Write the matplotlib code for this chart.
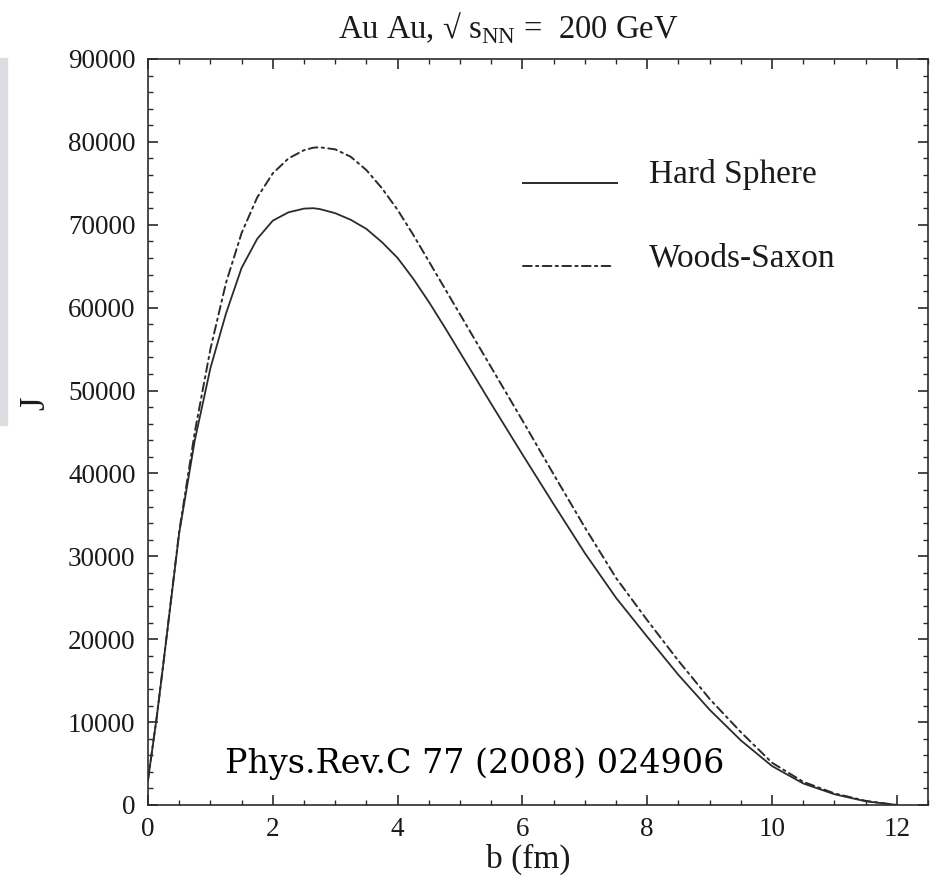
import numpy as np
import matplotlib.pyplot as plt
from matplotlib.lines import Line2D
from matplotlib.patches import Rectangle
from matplotlib.ticker import MultipleLocator

plt.rcParams['font.family'] = ['Liberation Serif', 'DejaVu Serif']
plt.rcParams['mathtext.fontset'] = 'custom'
plt.rcParams['mathtext.rm'] = 'Liberation Serif'

# valores
b_fm = [0, 0.14, 0.25, 0.5, 0.75, 1.0, 1.25, 1.5, 1.75, 2.0, 2.25, 2.5, 2.65,
        2.75, 3.0, 3.25, 3.5, 3.75, 4.0, 4.25, 4.5, 4.75, 5.0, 5.5, 6.0, 6.5,
        7.0, 7.5, 8.0, 8.5, 9.0, 9.5, 10.0, 10.5, 11.0, 11.5, 12.0]
j_hard = [3000, 10600, 17300, 32800, 44000, 52700, 59300, 64800, 68300, 70500,
          71500, 71950, 72000, 71900, 71400, 70600, 69500, 67900, 66000, 63500,
          60700, 57700, 54600, 48400, 42300, 36300, 30400, 25000, 20300, 15700,
          11500, 7800, 4700, 2600, 1300, 450, 0]
j_ws = [3000, 10600, 17300, 33000, 45000, 55000, 63000, 69000, 73300, 76200,
        78000, 79000, 79300, 79350, 79100, 78200, 76600, 74400, 71800, 68800,
        65600, 62400, 59200, 52800, 46400, 39900, 33500, 27400, 22300, 17400,
        12800, 8800, 5100, 2800, 1400, 500, 0]

title = r"Au Au, √ s$_{\rm NN}$ =  200 GeV"
ref_text = "Phys.Rev.C 77 (2008) 024906"
labels = ["Hard Sphere", "Woods-Saxon"]

cor = "#2b2b2b"
ws_dash = (0, (4.5, 2.2, 1.2, 2.2))

fig = plt.figure(figsize=(9.38, 8.92), dpi=100)
ax = fig.add_axes([148/938, 87/892, 780/938, 746/892])

ax.plot(b_fm, j_hard, color=cor, lw=1.3)
ax.plot(b_fm, j_ws, color=cor, lw=1.4, linestyle=ws_dash,
        dash_capstyle='round')

ax.set_xlim(0, 12.5)
ax.set_ylim(0, 90000)
ax.xaxis.set_major_locator(MultipleLocator(2))
ax.xaxis.set_minor_locator(MultipleLocator(0.5))
ax.yaxis.set_major_locator(MultipleLocator(10000))
ax.yaxis.set_minor_locator(MultipleLocator(2000))
ax.tick_params(which='both', direction='in', top=True, right=True,
               colors=cor, labelcolor='#1a1a1a', labelsize=19.5)
ax.tick_params(which='major', length=7, width=1.2, pad=9)
ax.tick_params(which='minor', length=3.5, width=1.0)
for s in ax.spines.values():
    s.set_linewidth(1.2)
    s.set_color(cor)

ax.set_xlabel("b (fm)", fontsize=24, color='#1a1a1a')
ax.xaxis.set_label_coords(0.487, -0.052)
ax.set_ylabel("J", fontsize=25, color='#1a1a1a')
ax.yaxis.set_label_coords(-0.123, 0.539)

# legenda desenhada à mão
estilos = ['-', ws_dash]
x_fim = [0.601, 0.596]
ys = [0.834, 0.7225]
for lab, ls, xf, y in zip(labels, estilos, x_fim, ys):
    ax.add_line(Line2D([0.481, xf], [y, y], transform=ax.transAxes,
                       color=cor, lw=1.4, linestyle=ls, dash_capstyle='round'))
    ax.text(0.642, y, lab, transform=ax.transAxes, fontsize=24,
            va='baseline', ha='left', color='#1a1a1a')

ax.text(0.099, 0.055, ref_text, transform=ax.transAxes, fontsize=24,
        family='DejaVu Serif', va='center', ha='left', color='black')

fig.text(508/938, 1 - 28/892, title, fontsize=23.5, ha='center', va='center',
         color='#1a1a1a')

# faixa cinza à esquerda
fig.patches.append(Rectangle((0, 1 - 425/892), 7/938, 367/892,
                             transform=fig.transFigure, color='#dcdde0'))

fig.savefig("out.png", dpi=100)
